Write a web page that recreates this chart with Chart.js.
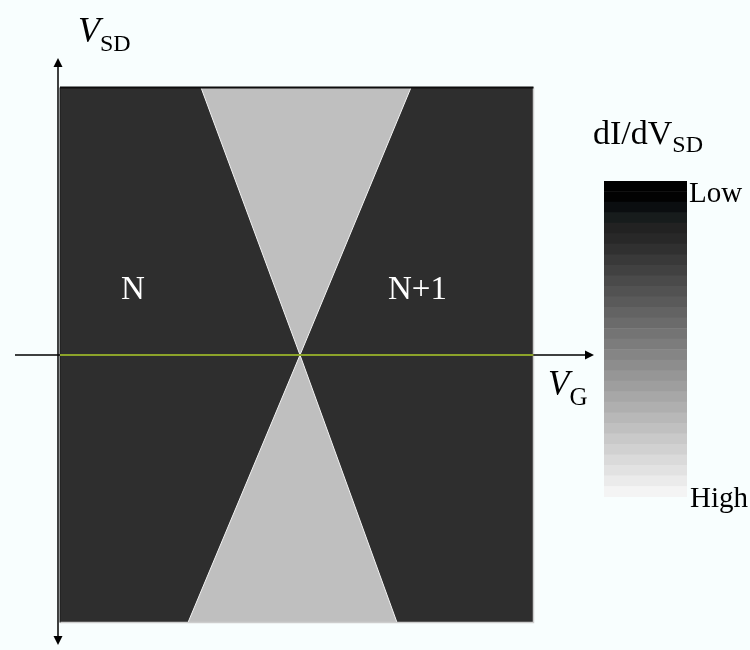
<!DOCTYPE html>
<html>
<head>
<meta charset="utf-8">
<script src="https://cdn.jsdelivr.net/npm/chart.js@4"></script>
<style>
body{margin:0;background:#f8fefe;}
#wrap{position:relative;width:750px;height:650px;font-family:"Liberation Serif","Times New Roman",serif;color:#000;}
canvas{position:absolute;}
.lbl{position:absolute;line-height:1;white-space:nowrap;}
.sub{position:relative;}
</style>
</head>
<body>
<div id="wrap">
  <canvas id="main" width="750" height="650" style="left:0;top:0"></canvas>
  <canvas id="scale" width="83" height="316" style="left:604px;top:181px"></canvas>
  <div class="lbl" style="left:78px;top:12px;font-size:36px"><i>V</i><span class="sub" style="font-size:24px;top:9px">SD</span></div>
  <div class="lbl" style="left:548px;top:366px;font-size:35px"><i>V</i><span class="sub" style="font-size:25px;top:10px">G</span></div>
  <div class="lbl" style="left:593px;top:116px;font-size:34px">dI/dV<span class="sub" style="font-size:24px;top:8px">SD</span></div>
  <div class="lbl" id="lowLbl" style="left:689px;top:178px;font-size:29px"></div>
  <div class="lbl" id="highLbl" style="left:690px;top:483px;font-size:29px"></div>
  <div class="lbl" id="nLbl" style="left:121px;top:272px;font-size:33px;color:#fff"></div>
  <div class="lbl" id="n1Lbl" style="left:388px;top:272px;font-size:33px;color:#fff"></div>
</div>
<script>
// map extent (arbitrary units): gate voltage and bias
const mapVG = [-2.4, 2.335];
const mapVSD = [-2.675, 2.675];
// where the diamond edges hit the top and bottom of the map
const coneTopVG = [-0.99, 1.11];
const coneBottomVG = [-1.12, 0.97];
const apexPt = [0, 0];
// axes drawn as arrows
const axisVGRange = [-2.85, 2.94];
const axisVSDRange = [-2.9, 2.97];
const axisVSDAt = -2.42;
// colour scale steps, Low (top) to High (bottom)
const shades = ['#000000','#020202','#0b0e10','#171c1c','#222222','#282828','#303030','#393939','#414141','#4a4a4a',
  '#525252','#5a5a5a','#636363','#6b6b6b','#747474','#7c7c7c','#858585','#8d8d8d','#969696','#9e9e9e',
  '#a7a7a7','#afafaf','#b8b8b8','#c0c0c0','#c9c9c9','#d1d1d1','#dadada','#e2e2e2','#ebebeb','#f4f4f4'];
const scaleLabels = ['Low', 'High'];
const regionLabels = ['N', 'N+1'];

document.getElementById('lowLbl').textContent = scaleLabels[0];
document.getElementById('highLbl').textContent = scaleLabels[1];
document.getElementById('nLbl').textContent = regionLabels[0];
document.getElementById('n1Lbl').textContent = regionLabels[1];

const pt = (x, y) => ({x, y});
const [x0, x1] = mapVG, [y0, y1] = mapVSD;

function poly(points, fillColor, lineColor, width, order){
  return { data: points, showLine: true, fill: fillColor ? 'shape' : false,
    backgroundColor: fillColor || 'transparent', borderColor: lineColor || 'transparent',
    borderWidth: width, pointRadius: 0, tension: 0, order };
}

const arrowPlugin = {
  id: 'arrows',
  afterDatasetsDraw(chart){
    const {ctx, scales:{x, y}} = chart;
    const head = (tx, ty, dx, dy) => {
      const L = 9, W = 4.5;
      const bx = tx - dx*L, by = ty - dy*L;
      ctx.beginPath();
      ctx.moveTo(tx, ty);
      ctx.lineTo(bx - dy*W, by + dx*W);
      ctx.lineTo(bx + dy*W, by - dx*W);
      ctx.closePath();
      ctx.fill();
    };
    ctx.save();
    ctx.fillStyle = '#000';
    const ax = x.getPixelForValue(axisVSDAt);
    head(ax, y.getPixelForValue(axisVSDRange[1]), 0, -1);
    head(ax, y.getPixelForValue(axisVSDRange[0]), 0, 1);
    head(x.getPixelForValue(axisVGRange[1]), y.getPixelForValue(0), 1, 0);
    ctx.restore();
  }
};

new Chart(document.getElementById('main'), {
  type: 'scatter',
  data: { datasets: [
    poly([pt(x0,y0), pt(x0,y1), pt(x1,y1), pt(x1,y0), pt(x0,y0)], '#2e2e2e', null, 0, 10),
    poly([pt(coneTopVG[0],y1), pt(coneTopVG[1],y1), pt(apexPt[0],apexPt[1]), pt(coneTopVG[0],y1)], '#bfbfbf', '#f4f4f4', 1, 8),
    poly([pt(coneBottomVG[0],y0), pt(coneBottomVG[1],y0), pt(apexPt[0],apexPt[1]), pt(coneBottomVG[0],y0)], '#bfbfbf', '#f4f4f4', 1, 8),
    poly([pt(x0,y1), pt(x1,y1)], null, '#0d0d0d', 2, 6),
    poly([pt(x0,y0), pt(x0,y1)], null, '#1a1a1a', 1, 6),
    poly([pt(x1,y1), pt(x1,y0), pt(x0,y0)], null, '#cdcdcd', 1.5, 6),
    poly([pt(axisVSDAt,axisVSDRange[0]+0.05), pt(axisVSDAt,axisVSDRange[1]-0.05)], null, '#000', 1.5, 3),
    poly([pt(axisVGRange[0],0), pt(axisVGRange[1]-0.05,0)], null, '#000', 1.3, 3),
    poly([pt(x0,0), pt(x1,0)], null, '#8ca32a', 2, 1)
  ]},
  options: {
    responsive: false, animation: false, events: [],
    layout: { padding: 0 },
    plugins: { legend: {display:false}, tooltip: {enabled:false} },
    scales: {
      x: { type:'linear', min:-3, max:4.5, display:false },
      y: { type:'linear', min:-2.95, max:3.55, display:false }
    }
  },
  plugins: [arrowPlugin]
});

// colour scale: stacked from High (bottom) to Low (top)
new Chart(document.getElementById('scale'), {
  type: 'bar',
  data: {
    labels: [''],
    datasets: shades.slice().reverse().map(c => ({
      data: [1], backgroundColor: c, borderWidth: 0,
      barPercentage: 1, categoryPercentage: 1, stack: 's'
    }))
  },
  options: {
    responsive: false, animation: false, events: [],
    layout: { padding: 0 },
    plugins: { legend: {display:false}, tooltip: {enabled:false} },
    scales: {
      x: { stacked:true, display:false },
      y: { stacked:true, display:false, min:0, max:shades.length }
    }
  }
});
</script>
</body>
</html>
